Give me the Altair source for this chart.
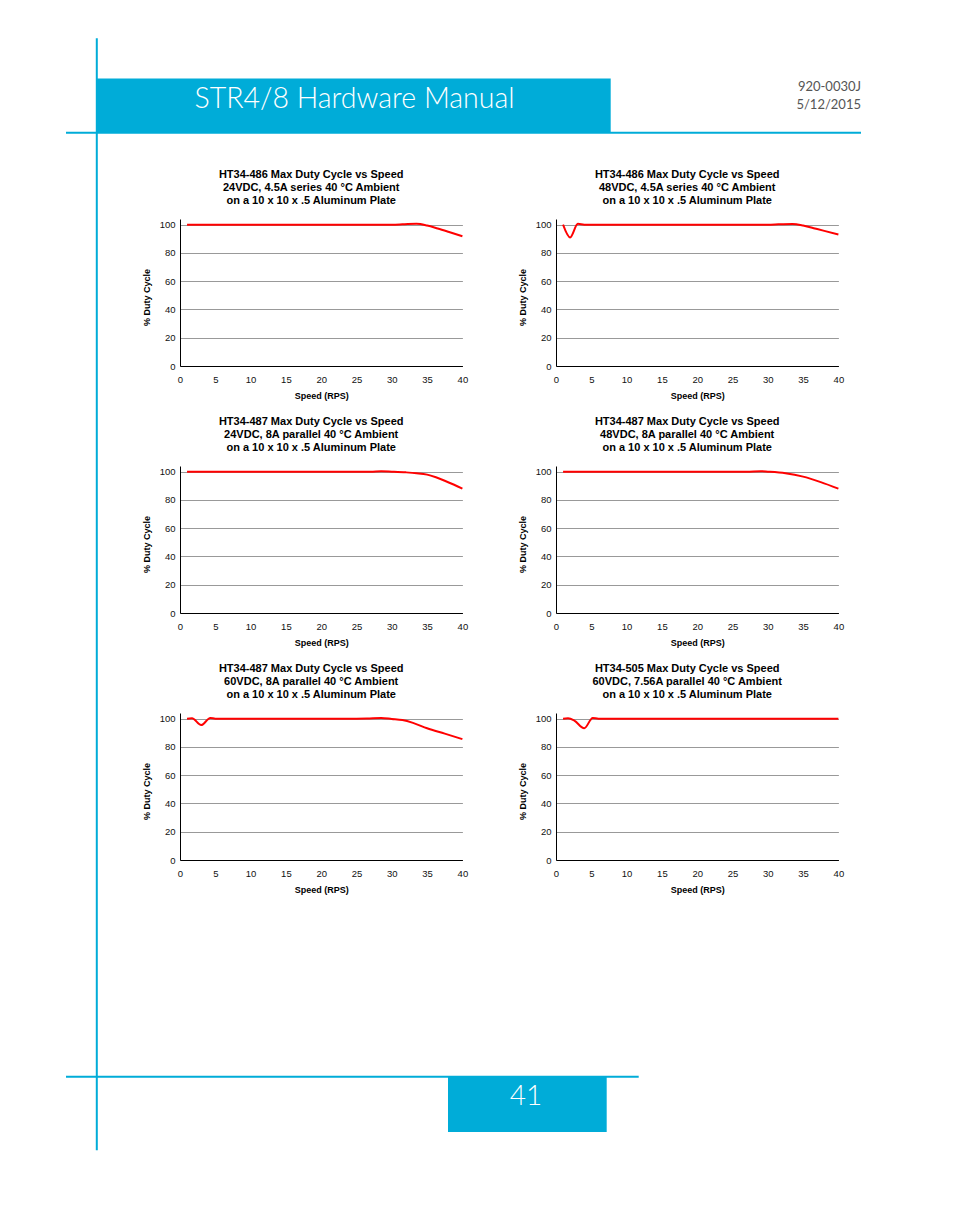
import altair as alt
import pandas as pd

# ---------------- data ----------------
x_ticks = [0, 5, 10, 15, 20, 25, 30, 35, 40]
y_ticks = [0, 20, 40, 60, 80, 100]

speed_a = [1, 5, 10, 15, 20, 25, 30, 31.5, 33.5, 35, 36.5, 38, 40]
duty_a = [100, 100, 100, 100, 100, 100, 100, 100.2, 100.6, 99.4, 97.3, 95.0, 91.8]

speed_b = [1, 2, 3.1, 4, 5, 10, 15, 20, 25, 30, 31.5, 33.5, 35, 36.5, 38, 40]
duty_b = [100, 91, 100.6, 100, 100, 100, 100, 100, 100, 100, 100.2, 100.5, 99.4, 97.5, 95.6, 93]

speed_c = [1, 5, 10, 15, 20, 25, 27, 28.5, 30, 32, 33.5, 35, 36.25, 37.5, 38.75, 40]
duty_c = [100, 100, 100, 100, 100, 100, 100, 100.3, 100, 99.5, 98.9, 97.9, 96.0, 93.6, 90.9, 88]

speed_d = [1, 5, 10, 15, 20, 25, 27, 29, 30, 32.5, 35, 37.5, 40]
duty_d = [100, 100, 100, 100, 100, 100, 100, 100.3, 100, 98.9, 96.5, 92.6, 88]

speed_e = [1, 1.7, 3, 4.3, 5, 10, 15, 20, 25, 26.5, 28.5, 30, 31.5, 33, 35, 37.5, 40]
duty_e = [100, 100.3, 95.5, 100.5, 100, 100, 100, 100, 100, 100.1, 100.5, 99.8, 99.0, 97.0, 93.2, 89.4, 85.5]

speed_f = [1, 1.7, 2.6, 4, 5.2, 6, 10, 15, 20, 25, 30, 35, 40]
duty_f = [100, 100.2, 98.6, 93.2, 100.5, 100, 100, 100, 100, 100, 100, 100, 100]

titles = [
    ["HT34-486 Max Duty Cycle vs Speed", "24VDC, 4.5A series 40 °C Ambient", "on a 10 x 10 x .5 Aluminum Plate"],
    ["HT34-486 Max Duty Cycle vs Speed", "48VDC, 4.5A series 40 °C Ambient", "on a 10 x 10 x .5 Aluminum Plate"],
    ["HT34-487 Max Duty Cycle vs Speed", "24VDC, 8A parallel 40 °C Ambient", "on a 10 x 10 x .5 Aluminum Plate"],
    ["HT34-487 Max Duty Cycle vs Speed", "48VDC, 8A parallel 40 °C Ambient", "on a 10 x 10 x .5 Aluminum Plate"],
    ["HT34-487 Max Duty Cycle vs Speed", "60VDC, 8A parallel 40 °C Ambient", "on a 10 x 10 x .5 Aluminum Plate"],
    ["HT34-505 Max Duty Cycle vs Speed", "60VDC, 7.56A parallel 40 °C Ambient", "on a 10 x 10 x .5 Aluminum Plate"],
]

header_title = "STR4/8 Hardware Manual"
doc_number = "920-0030J"
doc_date = "5/12/2015"
page_number = "41"

# ---------------- styling ----------------
BLUE = "#00acd8"
PW, PH = 282.4, 147
FONT = "Liberation Sans"
OX, OY = 8, 218.7  # page position of the top-left grid cell


def panel(speed, duty, title):
    df = pd.DataFrame({"Speed": speed, "Duty": duty})
    return alt.Chart(df).mark_line(
        color="#ff0000", strokeWidth=2, interpolate="monotone"
    ).encode(
        x=alt.X(
            "Speed:Q",
            scale=alt.Scale(domain=[0, 40], nice=False, zero=False),
            axis=alt.Axis(
                values=x_ticks, title="Speed (RPS)", grid=False, ticks=False, tickSize=0,
                labelFlush=False, labelPadding=8.5, titleX=PW / 2, titleY=29.3,
                titleBaseline="middle", titleAnchor="middle",
            ),
        ),
        y=alt.Y(
            "Duty:Q",
            scale=alt.Scale(domain=[0, 104], nice=False),
            axis=alt.Axis(
                values=y_ticks, title="% Duty Cycle", grid=True, gridColor="#999999",
                gridWidth=1, ticks=False, tickSize=0, labelFlush=False, labelPadding=5,
                titleX=-33.6, titleY=78, titleBaseline="middle", titleAnchor="middle",
            ),
        ),
    ).properties(
        width=PW,
        height=PH,
        title=alt.TitleParams(
            text=title, font=FONT, fontSize=11, fontWeight="bold", color="#000000",
            anchor="middle", dx=-10, offset=2, lineHeight=12.8, baseline="bottom",
        ),
    )


dummy = pd.DataFrame({"k": [0]})
base = alt.Chart(dummy)


def px(v):
    return alt.value(v - OX)


def py(v):
    return alt.value(v - OY)


# first spacer cell carries the page furniture (header / footer)
page_furniture = alt.layer(
    base.mark_rect(color="#ffffff").encode(x=px(8), x2=px(9), y=py(8), y2=py(9)),
    base.mark_rect(color=BLUE).encode(x=px(96), x2=px(610.7), y=py(78.3), y2=py(132)),
    base.mark_rule(color=BLUE, strokeWidth=2).encode(x=px(96.8), y=py(38), y2=py(1150)),
    base.mark_rule(color=BLUE, strokeWidth=2).encode(x=px(66), x2=px(861), y=py(132.5)),
    base.mark_text(font="Lato", fontSize=28.5, fontWeight=300, color="white",
                   align="center", baseline="middle").encode(
        x=px(354.5), y=py(99), text=alt.value(header_title)),
    base.mark_text(font="Lato", fontSize=13, color="#555555", align="right", baseline="middle").encode(
        x=px(861), y=py(86.5), text=alt.value(doc_number)),
    base.mark_text(font="Lato", fontSize=13, color="#555555", align="right", baseline="middle").encode(
        x=px(861), y=py(104.5), text=alt.value(doc_date)),
    base.mark_rule(color=BLUE, strokeWidth=2).encode(x=px(66), x2=px(638.7), y=py(1076.5)),
    base.mark_rect(color=BLUE).encode(x=px(448), x2=px(606.7), y=py(1076), y2=py(1131.7)),
    base.mark_text(font="Lato", fontSize=28, fontWeight=300, color="white",
                   align="center", baseline="middle").encode(
        x=px(526), y=py(1097), text=alt.value(page_number)),
).properties(width=78.3, height=PH)


def spacer():
    return base.mark_rect(opacity=0).encode(
        x=alt.value(0), x2=alt.value(1), y=alt.value(0), y2=alt.value(1)
    ).properties(width=78.3, height=PH)


panels = [
    panel(speed_a, duty_a, titles[0]),
    panel(speed_b, duty_b, titles[1]),
    panel(speed_c, duty_c, titles[2]),
    panel(speed_d, duty_d, titles[3]),
    panel(speed_e, duty_e, titles[4]),
    panel(speed_f, duty_f, titles[5]),
]

cells = [
    page_furniture, panels[0], panels[1],
    spacer(), panels[2], panels[3],
    spacer(), panels[4], panels[5],
]

chart = alt.concat(
    *cells, columns=3, spacing={"row": 100, "column": 93}, bounds="flush", align="each", padding=0
).configure_view(
    strokeWidth=0
).configure_axis(
    domainColor="#000000", domainWidth=1, labelFont=FONT, labelFontSize=9.5,
    labelColor="#111111", titleFont=FONT, titleFontSize=9, titleFontWeight="bold",
    titleColor="#000000",
)

chart.save("out.html", embed_options={"renderer": "svg", "actions": False})
